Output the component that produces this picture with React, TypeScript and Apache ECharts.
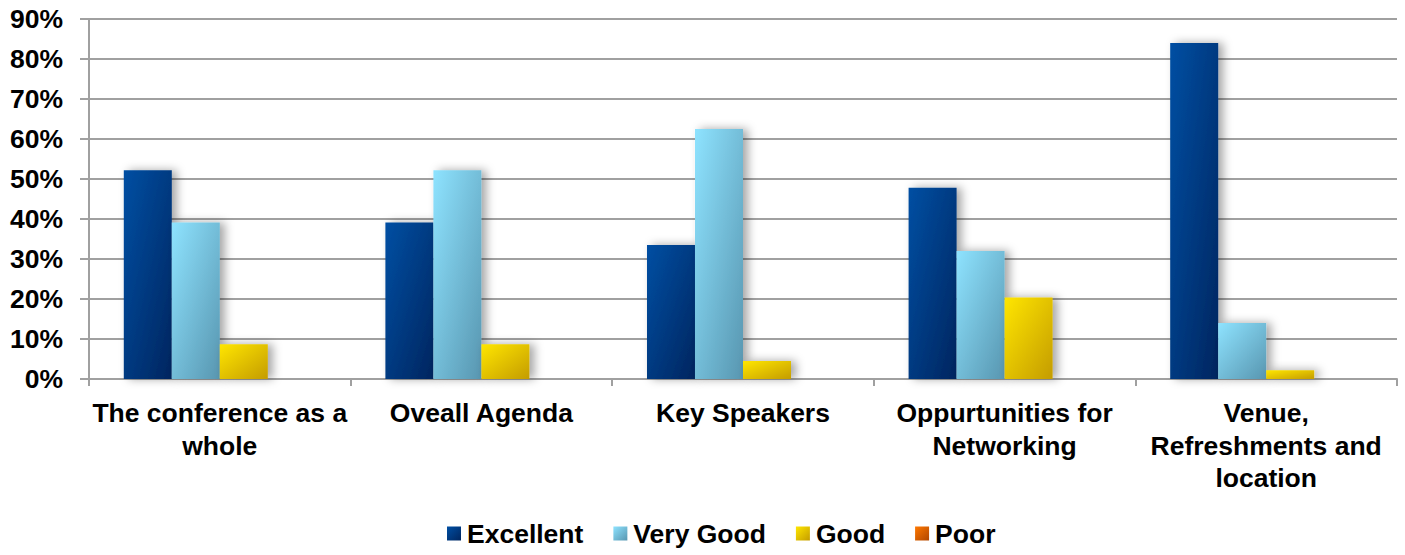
import React, { useEffect, useRef } from "react";
import * as echarts from "echarts";

const categories = [
  "The conference as a\nwhole",
  "Oveall Agenda",
  "Key Speakers",
  "Oppurtunities for\nNetworking",
  "Venue,\nRefreshments and\nlocation",
];
const excellent = [52.2, 39.1, 33.5, 47.8, 84.0];
const veryGood = [39.1, 52.2, 62.5, 32.0, 14.0];
const good = [8.7, 8.7, 4.5, 20.4, 2.2];
const poor = [0, 0, 0, 0, 0];
const yTicks = { min: 0, max: 90, interval: 10 };

const grad = (a: string, b: string) =>
  new echarts.graphic.LinearGradient(0, 0, 1, 1, [
    { offset: 0, color: a },
    { offset: 1, color: b },
  ]);

const FONT = "'Liberation Sans', Arial, sans-serif";
const FS = 26.5;

export default function App() {
  const ref = useRef<HTMLDivElement>(null);
  useEffect(() => {
    if (!ref.current) return;
    const chart = echarts.init(ref.current, undefined, { renderer: "svg" });
    const mk = (name: string, data: number[], a: string, b: string) => ({
      name,
      type: "bar",
      data,
      barGap: "0%",
      barCategoryGap: "26.6%",
      itemStyle: {
        color: grad(a, b),
        shadowBlur: 10,
        shadowOffsetX: 5,
        shadowOffsetY: 0,
        shadowColor: "rgba(0,0,0,0.35)",
      },
    });
    chart.setOption({
      animation: false,
      backgroundColor: "#ffffff",
      grid: { left: 89, right: 8, top: 19, bottom: 176, containLabel: false },
      legend: {
        bottom: 3,
        left: 442,
        itemWidth: 14,
        itemHeight: 14,
        itemGap: 30,
        icon: "rect",
        textStyle: { fontFamily: FONT, fontWeight: "bold", fontSize: FS, color: "#000", padding: [0, 0, 0, 1] },
        data: ["Excellent", "Very Good", "Good", "Poor"],
      },
      xAxis: {
        type: "category",
        data: categories,
        axisLine: { show: true, lineStyle: { color: "#a0a0a0", width: 2 } },
        axisTick: { show: true, alignWithLabel: false, length: 7, lineStyle: { color: "#a0a0a0", width: 2 } },
        axisLabel: {
          interval: 0,
          margin: 18,
          fontFamily: FONT,
          fontWeight: "bold",
          fontSize: FS,
          lineHeight: 32.5,
          color: "#000",
        },
      },
      yAxis: {
        type: "value",
        min: yTicks.min,
        max: yTicks.max,
        interval: yTicks.interval,
        axisLine: { show: true, lineStyle: { color: "#a0a0a0", width: 2 } },
        axisTick: { show: true, length: 9, lineStyle: { color: "#a0a0a0", width: 2 } },
        splitLine: { show: true, lineStyle: { color: "#a0a0a0", width: 2 } },
        axisLabel: {
          formatter: "{value}%",
          margin: 26,
          fontFamily: FONT,
          fontWeight: "bold",
          fontSize: FS,
          color: "#000",
        },
      },
      series: [
        mk("Excellent", excellent, "#004FA3", "#00255F"),
        mk("Very Good", veryGood, "#8EE3FF", "#5896B0"),
        mk("Good", good, "#FFE600", "#C49C00"),
        mk("Poor", poor, "#FF7800", "#B04600"),
      ],
    });
    return () => chart.dispose();
  }, []);
  return (
    <div
      ref={ref}
      style={{ position: "absolute", left: 0, top: 0, width: 1405, height: 555 }}
    />
  );
}
